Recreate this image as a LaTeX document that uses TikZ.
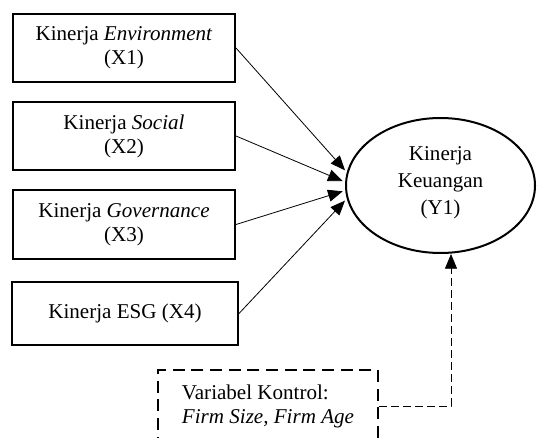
\documentclass[tikz,border=0pt]{standalone}
\usepackage{fontspec}
\setmainfont{Liberation Serif}
\usetikzlibrary{arrows.meta,positioning,shapes.geometric}

\begin{document}
\begin{tikzpicture}[x=0.75pt,y=-0.75pt,
    font=\fontsize{15.8}{18}\selectfont,
    varbox/.style={draw,line width=1.5pt,inner sep=0pt,align=center,
      minimum width=166.5pt,minimum height=51pt},
    latent/.style={draw,ellipse,line width=1.5pt,inner sep=0pt,align=center,
      minimum width=141.75pt,minimum height=101.25pt,
      font=\fontsize{15.8}{20.25}\selectfont},
    ctrlbox/.style={draw,line width=1.5pt,dash pattern=on 9pt off 5pt,
      inner sep=0pt,align=left,minimum width=165pt,minimum height=54pt},
    path/.style={-{Triangle[length=11pt,width=9pt]},line width=0.6pt,shorten >=2pt}]
  \useasboundingbox (0,0) rectangle (542,438);
  \node[varbox] (x1) at (124,48) {Kinerja \textit{Environment}\\(X1)};
  \node[varbox] (x2) at (124,136) {Kinerja \textit{Social}\\(X2)};
  \node[varbox] (x3) at (124,224.5) {Kinerja \textit{Governance}\\(X3)};
  \node[varbox,minimum width=169.5pt,minimum height=47.25pt] (x4) at (125,313.5) {Kinerja ESG (X4)};
  \node[latent] (y1) at (440.5,185.5) {\\[-14pt]Kinerja\\Keuangan\\(Y1)};
  \node[ctrlbox] (ctrl) at (268,406) {Variabel Kontrol:\\\textit{Firm Size, Firm Age}};
  % jalur ke Y1
  \foreach \i/\a in {1/172,2/178,3/183,4/188} {
      \draw[path] (x\i.east) -- (y1.\a);
  }
  % variabel kontrol
  \coordinate (c1) at (451,406);
  \draw[path,dash pattern=on 6pt off 3pt,shorten >=0pt] (ctrl.east) -- (c1) -- (c1 |- y1.south);
\end{tikzpicture}
\end{document}
